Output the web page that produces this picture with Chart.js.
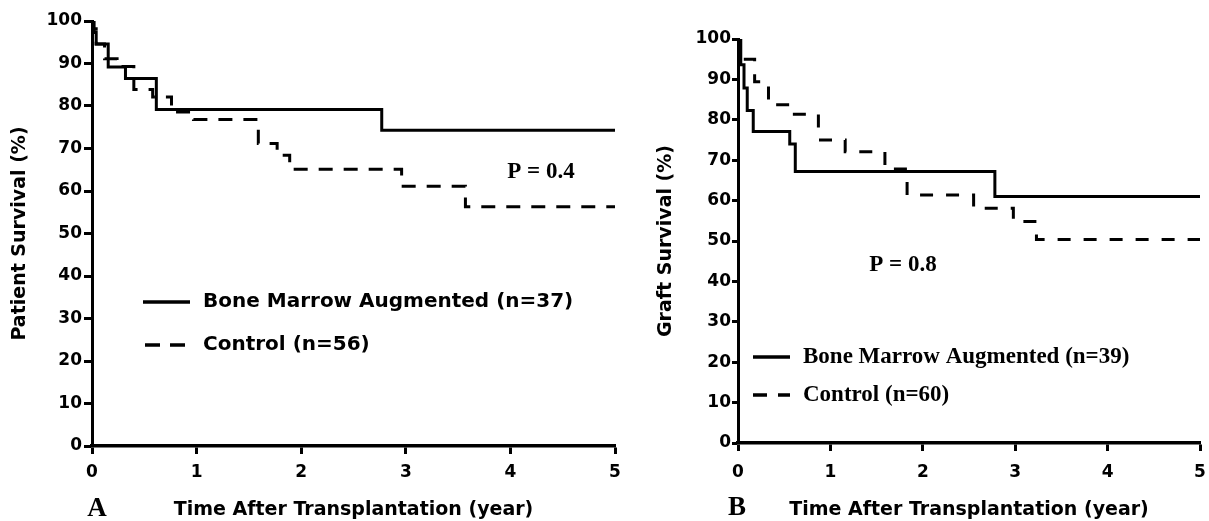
<!DOCTYPE html>
<html>
<head>
<meta charset="utf-8">
<script src="https://cdn.jsdelivr.net/npm/chart.js@4.4.1/dist/chart.umd.min.js"></script>
<style>
    html, body { margin: 0; padding: 0; background: #fff; }
    #wrap { position: relative; width: 1209px; height: 521px; overflow: hidden; }
    #wrap canvas { position: absolute; top: 0; }
    #chartA { left: 0; }
    #chartB { left: 620px; }
</style>
</head>
<body>
<div id="wrap">
    <canvas id="chartA" width="625" height="521"></canvas>
    <canvas id="chartB" width="589" height="521"></canvas>
</div>
<script>
// --- data (time in years, survival in %) ---

// Panel A: patient survival
const seriesNamesA = ['Bone Marrow Augmented (n=37)', 'Control (n=56)'];
const timeA_bm  = [0, 0.02, 0.04, 0.155, 0.32, 0.615, 2.77, 5];
const survA_bm  = [100, 97.3, 94.6, 89.2, 86.5, 79.2, 74.3, 74.3];
const timeA_ctl = [0, 0.01, 0.04, 0.12, 0.24, 0.40, 0.58, 0.76, 0.97, 1.59, 1.77, 1.89, 2.96, 3.57, 5];
const survA_ctl = [100, 98.2, 94.6, 91.1, 89.3, 83.9, 82.1, 78.6, 76.8, 71.2, 68.4, 65.1, 61.1, 56.3, 56.3];
const pValueA = 'P = 0.4';

// Panel B: graft survival
const seriesNamesB = ['Bone Marrow Augmented (n=39)', 'Control (n=60)'];
const timeB_bm  = [0, 0.03, 0.065, 0.10, 0.165, 0.56, 0.62, 2.78, 5];
const survB_bm  = [100, 93.6, 87.9, 82.3, 77.1, 74.0, 67.2, 61.0, 61.0];
const timeB_ctl = [0, 0.02, 0.18, 0.33, 0.56, 0.87, 1.16, 1.59, 1.83, 2.55, 2.98, 3.23, 5];
const survB_ctl = [100, 95.0, 89.4, 83.7, 81.4, 75.0, 72.1, 67.8, 61.4, 58.1, 54.8, 50.4, 50.4];
const pValueB = 'P = 0.8';

// axes
const xTickValues = [0, 1, 2, 3, 4, 5];
const yTickValues = [0, 10, 20, 30, 40, 50, 60, 70, 80, 90, 100];
const xTitle = 'Time After Transplantation (year)';

Chart.defaults.font.family = "'DejaVu Sans', sans-serif";
Chart.defaults.font.weight = 'bold';
Chart.defaults.color = '#000';

const SERIF = "'Liberation Serif', 'Times New Roman', serif";

function toPoints(times, vals) {
    return times.map((t, i) => ({ x: t, y: vals[i] }));
}

// legend, p-value and panel letter, drawn on top of the chart
const panelText = {
    id: 'panelText',
    afterDraw(chart, args, o) {
        const ctx = chart.ctx;
        ctx.save();
        ctx.fillStyle = '#000';
        ctx.strokeStyle = '#000';
        ctx.textBaseline = 'middle';
        o.legend.forEach((row, i) => {
            ctx.lineWidth = 3.5;
            ctx.setLineDash(row.dash || []);
            ctx.beginPath();
            ctx.moveTo(row.x0, row.y);
            ctx.lineTo(row.x1, row.y);
            ctx.stroke();
            ctx.setLineDash([]);
            ctx.font = o.legendFont;
            ctx.textAlign = 'left';
            ctx.fillText(chart.data.datasets[i].label, row.tx, row.y);
        });
        ctx.textAlign = 'center';
        ctx.font = 'bold 23px ' + SERIF;
        ctx.fillText(o.pText, o.pX, o.pY);
        ctx.font = 'bold 27px ' + SERIF;
        ctx.fillText(o.letter, o.letterX, o.letterY);
        ctx.restore();
    }
};

function makePanel(id, cfg) {
    return new Chart(document.getElementById(id), {
        type: 'line',
        data: {
            datasets: [
                { label: cfg.names[0], data: toPoints(cfg.t1, cfg.s1), borderColor: '#000', borderWidth: 3,
                  stepped: true, pointRadius: 0, fill: false, borderJoinStyle: 'miter' },
                { label: cfg.names[1], data: toPoints(cfg.t2, cfg.s2), borderColor: '#000', borderWidth: 3,
                  borderDash: cfg.dash, stepped: true, pointRadius: 0, fill: false, borderJoinStyle: 'miter' }
            ]
        },
        options: {
            responsive: false,
            animation: false,
            devicePixelRatio: 1,
            layout: { padding: { top: cfg.top, right: cfg.right, left: 0, bottom: 0 } },
            plugins: {
                legend: { display: false },
                tooltip: { enabled: false },
                panelText: cfg.text
            },
            scales: {
                x: {
                    type: 'linear', min: 0, max: 5,
                    afterBuildTicks: s => { s.ticks = xTickValues.map(v => ({ value: v })); },
                    afterFit: s => { s.height = cfg.xHeight; s.paddingLeft = 0; s.paddingRight = 0; },
                    border: { display: true, color: '#000', width: 3.5 },
                    grid: { display: true, drawOnChartArea: false, drawTicks: true, tickLength: 8, tickWidth: 3, tickColor: '#000', color: '#000' },
                    ticks: { font: { size: 17, weight: 'bold' }, padding: cfg.xTickPad, maxRotation: 0 },
                    title: { display: true, text: xTitle, font: { size: 19, weight: 'bold' }, padding: { top: 0, bottom: 0 } }
                },
                y: {
                    type: 'linear', min: 0, max: 100,
                    afterBuildTicks: s => { s.ticks = yTickValues.map(v => ({ value: v })); },
                    afterFit: s => { s.width = cfg.yWidth; s.paddingTop = 0; s.paddingBottom = 0; },
                    border: { display: true, color: '#000', width: 3 },
                    grid: { display: true, drawOnChartArea: false, drawTicks: true, tickLength: cfg.yTickLen, tickWidth: 3, tickColor: '#000', color: '#000' },
                    ticks: { font: { size: 17, weight: 'bold' }, padding: cfg.yTickPad },
                    title: { display: true, text: cfg.yTitle, font: { size: 19, weight: 'bold' }, padding: { top: cfg.yTitlePad, bottom: 0 } }
                }
            }
        },
        plugins: [panelText]
    });
}

makePanel('chartA', {
    names: seriesNamesA, t1: timeA_bm, s1: survA_bm, t2: timeA_ctl, s2: survA_ctl,
    dash: [14, 11], top: 21, right: 10, xHeight: 75, yWidth: 92,
    xTickPad: 8, yTickLen: 8, yTickPad: 2, yTitlePad: 9,
    yTitle: 'Patient Survival (%)',
    text: {
        legendFont: "bold 20px 'DejaVu Sans', sans-serif",
        legend: [
            { x0: 143, x1: 190, y: 302, tx: 203 },
            { x0: 145, x1: 187, y: 345, tx: 203, dash: [15, 10] }
        ],
        pText: pValueA, pX: 541, pY: 172,
        letter: 'A', letterX: 97, letterY: 509
    }
});

makePanel('chartB', {
    names: seriesNamesB, t1: timeB_bm, s1: survB_bm, t2: timeB_ctl, s2: survB_ctl,
    dash: [13, 13], top: 39, right: 9, xHeight: 78, yWidth: 118,
    xTickPad: 11, yTickLen: 6, yTickPad: 1, yTitlePad: 35,
    yTitle: 'Graft Survival (%)',
    text: {
        legendFont: 'bold 23px ' + SERIF,
        legend: [
            { x0: 133, x1: 170, y: 357, tx: 183 },
            { x0: 133, x1: 170, y: 395, tx: 183, dash: [14, 11] }
        ],
        pText: pValueB, pX: 283, pY: 265,
        letter: 'B', letterX: 117, letterY: 508
    }
});
</script>
</body>
</html>
